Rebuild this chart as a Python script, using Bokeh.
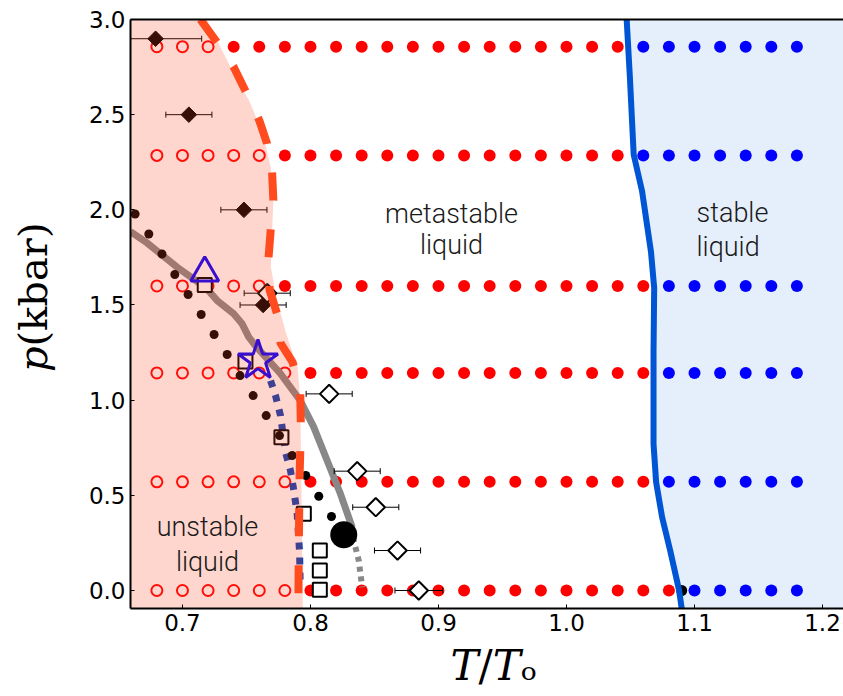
import numpy as np
from bokeh.plotting import figure
from bokeh.models import Range1d, FixedTicker, PrintfTickFormatter, LinearAxis
from bokeh.core.properties import value
from bokeh.embed import file_html
from bokeh.resources import INLINE

# ---------------- axes ----------------
x_start, x_end = 0.6594, 1.2164
y_start, y_end = -0.0946, 3.0
x_ticks = [0.7, 0.8, 0.9, 1.0, 1.1, 1.2]
y_ticks = [0.0, 0.5, 1.0, 1.5, 2.0, 2.5, 3.0]
x_title = "\u00a0\U0001D447/\U0001D447\u2092"
y_title = "\u00a0\u00a0\u2009\U0001D45D(kbar)"

# ---------------- simulated state points ----------------
grid_T = [0.68, 0.70, 0.72, 0.74, 0.76, 0.78, 0.80, 0.82, 0.84, 0.86, 0.88, 0.90, 0.92,
          0.94, 0.96, 0.98, 1.00, 1.02, 1.04, 1.06, 1.08, 1.10, 1.12, 1.14, 1.16, 1.18]
grid_p = [0.0, 0.571, 1.143, 1.6, 2.286, 2.857]
n_unstable = [6, 6, 6, 5, 5, 3]   # open red circles (left of row)
n_stable = [5, 6, 6, 6, 7, 7]     # blue dots (right of row)

# ---------------- boundaries ----------------
unstable_T = [0.719, 0.7375, 0.752, 0.763, 0.769, 0.771, 0.770, 0.769, 0.774, 0.781, 0.790, 0.792, 0.793, 0.794]
unstable_p = [3.0, 2.75, 2.575, 2.40, 2.22, 2.05, 1.875, 1.70, 1.52, 1.35, 1.17, 1.0, 0.5, -0.0946]

spinodal_T = [0.714, 0.728, 0.740, 0.751, 0.760, 0.766, 0.770, 0.771, 0.769, 0.767, 0.768, 0.775, 0.7766, 0.786, 0.792, 0.7925, 0.7915, 0.791, 0.7905]
spinodal_p = [3.0, 2.87, 2.75, 2.60, 2.47, 2.35, 2.20, 2.05, 1.90, 1.73, 1.58, 1.43, 1.30, 1.20, 1.05, 0.85, 0.6, 0.3, -0.0946]

melt_T = [1.047, 1.0495, 1.0525, 1.059, 1.066, 1.0685, 1.068, 1.068, 1.070, 1.0747, 1.081, 1.088, 1.090]
melt_p = [3.0, 2.7, 2.29, 2.1, 1.78, 1.59, 1.26, 0.77, 0.57, 0.385, 0.21, 0.0, -0.0946]

widom_T = [0.6594, 0.6724, 0.6959, 0.718, 0.727, 0.740, 0.7466, 0.7518, 0.758, 0.7766, 0.792, 0.8026, 0.813, 0.8234, 0.8326]
widom_p = [1.885, 1.826, 1.698, 1.593, 1.524, 1.454, 1.401, 1.331, 1.278, 1.139, 0.998, 0.858, 0.683, 0.508, 0.332]
widom_ext_T = [0.8326, 0.8338, 0.8377, 0.8404]
widom_ext_p = [0.332, 0.263, 0.158, 0.017]

blue_dot_T = [0.7688, 0.7727, 0.7766, 0.7805, 0.7844, 0.787, 0.7896, 0.7915, 0.792]
blue_dot_p = [1.103, 1.024, 0.919, 0.727, 0.63, 0.525, 0.403, 0.2, 0.017]

# ---------------- literature points ----------------
sdiam_T = [0.679, 0.705, 0.748, 0.763]
sdiam_p = [2.899, 2.50, 2.00, 1.50]
sdiam_err = [0.036, 0.018, 0.018, 0.018]

odiam_T = [0.7662, 0.8146, 0.8365, 0.851, 0.868, 0.8846]
odiam_p = [1.562, 1.033, 0.627, 0.4375, 0.210, 0.0]
odiam_err = [0.018, 0.018, 0.018, 0.018, 0.018, 0.0186]

sdot_T = [0.663, 0.6737, 0.684, 0.694, 0.7044, 0.7146, 0.7247, 0.7349, 0.745, 0.7552,
          0.7654, 0.7758, 0.7857, 0.7963, 0.8065, 0.8164]
sdot_p = [1.978, 1.873, 1.768, 1.660, 1.555, 1.450, 1.345, 1.240, 1.129, 1.024,
          0.919, 0.814, 0.709, 0.604, 0.495, 0.389]

sq_T = [0.7174, 0.7492, 0.7773, 0.7948, 0.8073, 0.8073, 0.8073]
sq_p = [1.605, 1.203, 0.805, 0.403, 0.210, 0.105, 0.0035]

cp_T = [0.826]
cp_p = [0.2925]
tm_T = [1.09]
tm_p = [0.0]

hex_T, hex_p = [0.7414], [1.803]
tri_T, tri_p = [0.7174], [1.668]
star_T, star_p = [0.759], [1.208]

# ---------------- figure ----------------
p = figure(width=843, height=696, output_backend="svg", toolbar_location=None,
           x_range=Range1d(x_start, x_end), y_range=Range1d(y_start, y_end),
           min_border_left=130, min_border_right=0, min_border_top=19, min_border_bottom=88)
p.outline_line_color = None
p.xgrid.visible = False
p.ygrid.visible = False
p.background_fill_color = "white"
p.border_fill_color = "white"

for ax, ticks in ((p.xaxis[0], x_ticks), (p.yaxis[0], y_ticks)):
    ax.ticker = FixedTicker(ticks=ticks)
    ax.formatter = PrintfTickFormatter(format="%.1f")
    ax.major_label_text_font = "DejaVu Sans"
    ax.major_label_text_font_size = "23px"
    ax.major_label_text_color = "black"
    ax.axis_line_width = 2
    ax.axis_line_color = "black"
    ax.major_tick_in = 4
    ax.major_tick_out = 0
    ax.minor_tick_line_color = None
    ax.major_label_standoff = 5
    ax.axis_label_text_font = "DejaVu Serif"
    ax.axis_label_text_font_style = "normal"
    ax.axis_label_text_color = "black"

p.xaxis[0].axis_label = x_title
p.xaxis[0].axis_label_text_font_size = "42px"
p.xaxis[0].axis_label_standoff = 7
p.yaxis[0].axis_label = y_title
p.yaxis[0].axis_label_text_font_size = "40px"
p.yaxis[0].axis_label_standoff = 30

top = LinearAxis(ticker=FixedTicker(ticks=[]), axis_line_width=2, axis_line_color="black",
                 major_tick_line_color=None, minor_tick_line_color=None)
p.add_layout(top, "above")

# stable region
p.patch(melt_T + [x_end, x_end], melt_p + [y_start, y_end],
        fill_color="#0055d4", fill_alpha=0.1, line_color=None)

# state grid
nT = len(grid_T)
for pv, nu, ns in zip(grid_p, n_unstable, n_stable):
    oT = grid_T[:nu]
    rT = grid_T[nu:nT - ns]
    bT = grid_T[nT - ns:]
    p.scatter(oT, [pv] * len(oT), size=11, fill_color="white", fill_alpha=0.0,
              line_color="#ff0000", line_width=2)
    p.scatter(rT, [pv] * len(rT), size=12, fill_color="#ff0000", line_color=None)
    p.scatter(bT, [pv] * len(bT), size=12, fill_color="#0000ff", line_color=None)

p.scatter(tm_T, tm_p, size=11, fill_color="black", line_color=None)

# melting line
p.line(melt_T, melt_p, line_color="#0055d4", line_width=6)

# gray line
p.line(widom_T, widom_p, line_color="#888888", line_width=7)
p.line(widom_ext_T, widom_ext_p, line_color="#888888", line_width=6, line_dash="5 5")

# blue dotted line
p.line(blue_dot_T, blue_dot_p, line_color="#0a41b4", line_width=7, line_dash="7 8")

# squares
p.scatter(sq_T, sq_p, marker="square", size=14, fill_color="white",
          line_color="black", line_width=2)

# small dots
p.scatter(sdot_T, sdot_p, size=9, fill_color="black", line_color=None)

# error bars
def errbars(T, P, E):
    lo = [t - e for t, e in zip(T, E)]
    hi = [t + e for t, e in zip(T, E)]
    p.segment(lo, P, hi, P, line_color="black", line_width=1)
    p.scatter(lo + hi, P + P, marker="dash", angle=np.pi / 2, size=6,
              line_color="black", line_width=1)

errbars(sdiam_T, sdiam_p, sdiam_err)
errbars(odiam_T, odiam_p, odiam_err)

p.scatter(sdiam_T, sdiam_p, marker="square", angle=np.pi / 4, size=11,
          fill_color="black", line_color="black", line_width=1)
p.scatter(odiam_T, odiam_p, marker="square", angle=np.pi / 4, size=13,
          fill_color="white", line_color="black", line_width=2)

# critical point
p.scatter(cp_T, cp_p, size=27, fill_color="black", line_color=None)

# blue open markers
p.scatter(hex_T, hex_p, marker="hexagon", size=26, fill_alpha=0.0,
          line_color="#0000ff", line_width=3)
p.scatter(tri_T, tri_p, marker="triangle", size=28, fill_alpha=0.0,
          line_color="#0000ff", line_width=3)
p.scatter(star_T, star_p, marker="star", size=42, fill_alpha=0.0,
          line_color="#0000ff", line_width=3)

# unstable region overlay
p.patch([x_start] + unstable_T + [x_start], [y_end] + unstable_p + [y_start],
        fill_color="#ff461e", fill_alpha=0.22, line_color=None)

# spinodal dashed line
p.line(spinodal_T, spinodal_p, line_color="#ff4b1e", line_width=8, line_dash="28 29")

# region labels
txt = dict(text_font=value("Roboto Light, Liberation Sans"), text_font_size="27px",
           text_color="#1a1a1a", text_baseline="alphabetic")
p.text([0.7195, 0.7195], [0.3326, 0.1487], text=["unstable", "liquid"], text_align="center", **txt)
p.text([0.9102, 0.9102], [1.979, 1.8126], text=["metastable", "liquid"], text_align="center", **txt)
p.text([1.1016, 1.1016], [1.982, 1.807], text=["stable", "liquid"], text_align="left", **txt)

open("out.html", "w").write(file_html(p, INLINE))
